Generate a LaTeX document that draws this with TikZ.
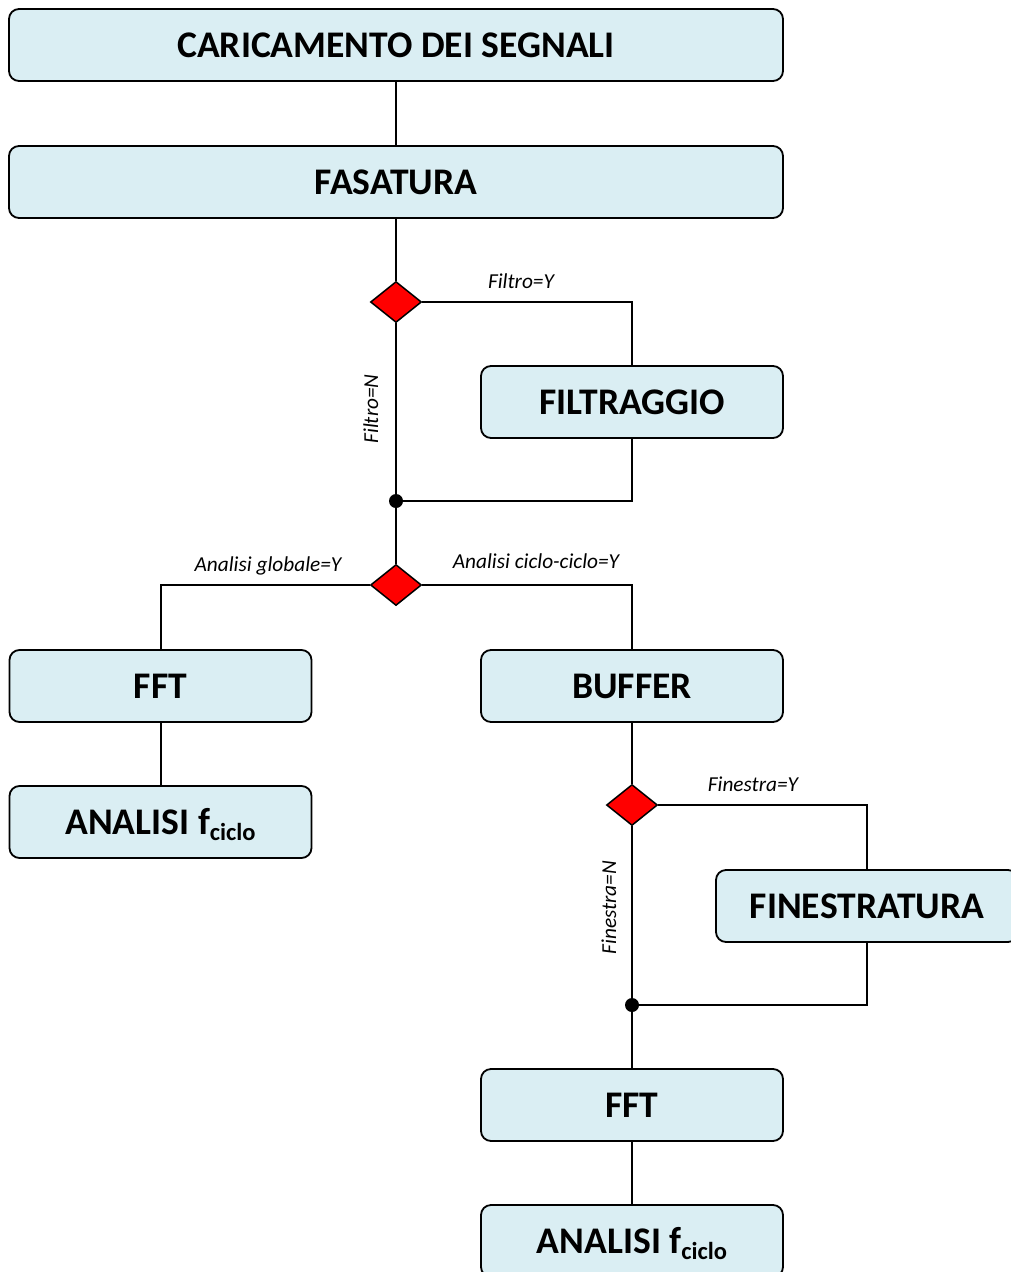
\documentclass[tikz,border=0pt]{standalone}
\usepackage{fontspec}
\setmainfont{Carlito}
\usetikzlibrary{shapes.geometric}

\definecolor{boxfill}{HTML}{DAEEF3}
\definecolor{choicered}{HTML}{FF0000}

\tikzset{
  stepbox/.style={draw=black, line width=1.8pt, fill=boxfill, rounded corners=10pt,
    minimum width=#1, minimum height=72pt, inner sep=0pt,
    font=\fontsize{37.6}{42}\selectfont\bfseries},
  stepbox/.default=302pt,
  choice/.style={diamond, draw=black, line width=1.5pt, fill=choicered,
    minimum width=51pt, minimum height=41pt, inner sep=0pt},
  joint/.style={circle, fill=black, minimum size=14pt, inner sep=0pt},
  link/.style={line width=2pt, draw=black},
  cond/.style={font=\fontsize{21.3}{23}\selectfont\itshape, inner sep=0pt, anchor=base},
}
% subscript that does not move the label off centre
\newcommand{\fsub}[1]{f\smash{\raisebox{-5.5pt}{\fontsize{24.5}{25}\selectfont #1}}}

\begin{document}
\begin{tikzpicture}[x=1pt,y=-1pt]
  \clip (0,0) rectangle (1011,1272);
  \fill[white] (0,0) rectangle (1011,1272);

  % process steps
  \node[stepbox=774pt] (load)  at (396,45)   {CARICAMENTO DEI SEGNALI};
  \node[stepbox=774pt] (phase) at (396,182)  {FASATURA};
  \node[stepbox]       (filt)  at (632,402)  {FILTRAGGIO};
  \node[stepbox]       (fftA)  at (160.5,686){FFT};
  \node[stepbox]       (anA)   at (160.5,822){ANALISI \fsub{ciclo}};
  \node[stepbox]       (buf)   at (632,686)  {BUFFER};
  \node[stepbox]       (win)   at (867,906)  {FINESTRATURA};
  \node[stepbox]       (fftB)  at (632,1105) {FFT};
  \node[stepbox]       (anB)   at (632,1241) {ANALISI \fsub{ciclo}};

  % decisions and merge points
  \node[choice] (d1) at (396,302) {};
  \node[choice] (d2) at (396,585) {};
  \node[choice] (d3) at (632,805) {};
  \coordinate (j1) at (396,501);
  \coordinate (j2) at (632,1005);

  % connectors
  \begin{scope}[link]
    \draw (load.south) -- (phase.north);
    \draw (phase.south) -- (d1.north);
    \draw (d1.east) -| (filt.north);
    \draw (filt.south) |- (j1);
    \draw (d1.south) -- (j1);
    \draw (j1) -- (d2.north);
    \draw (d2.west) -| (fftA.north);
    \draw (d2.east) -| (buf.north);
    \draw (fftA.south) -- (anA.north);
    \draw (buf.south) -- (d3.north);
    \draw (d3.east) -| (win.north);
    \draw (win.south) |- (j2);
    \draw (d3.south) -- (j2);
    \draw (j2) -- (fftB.north);
    \draw (fftB.south) -- (anB.north);
  \end{scope}
  \node[joint] (m1) at (j1) {};
  \node[joint] (m2) at (j2) {};

  % branch conditions
  \node[cond] (cy1) at (521,288) {Filtro=Y};
  \node[cond, rotate=90] (cn1) at (378,409) {Filtro=N};
  \node[cond] (cg)  at (268,571) {Analisi globale=Y};
  \node[cond] (cc)  at (536,568) {Analisi ciclo-ciclo=Y};
  \node[cond] (cy3) at (753,791) {Finestra=Y};
  \node[cond, rotate=90] (cn3) at (616,907.5) {Finestra=N};
\end{tikzpicture}
\end{document}
